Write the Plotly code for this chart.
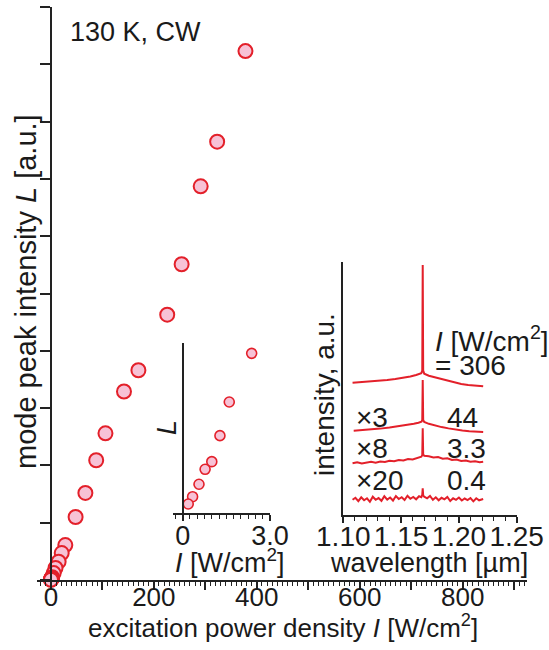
import plotly.graph_objects as go

# ---------------- data ----------------
# main: mode peak intensity L vs excitation power density I
I_main = [378, 323, 291, 254, 226, 170, 142, 106, 88, 67, 48, 28, 21, 15, 9, 5.4, 2.4, 1.6, 1.3, 1.0, 0.77, 0.56, 0.34, 0.19]
L_main = [9.23, 7.65, 6.87, 5.51, 4.63, 3.66, 3.29, 2.56, 2.09, 1.52, 1.10, 0.61, 0.47, 0.32, 0.21, 0.12, 0.05, 0.035, 0.028, 0.022, 0.018, 0.013, 0.008, 0.004]

# inset 1: low-excitation region
I_low = [2.37, 1.60, 1.28, 1.00, 0.77, 0.56, 0.34, 0.19]
L_low = [0.939, 0.653, 0.455, 0.302, 0.257, 0.169, 0.096, 0.053]

# inset 2: spectra (offset, scaled)
wl_306 = [1.108, 1.115, 1.122, 1.130, 1.138, 1.145, 1.152, 1.158, 1.163, 1.1675, 1.1683, 1.1687, 1.1691, 1.1700, 1.174, 1.179, 1.184, 1.190, 1.196, 1.202, 1.208, 1.214, 1.221]
int_306 = [5.22, 5.24, 5.27, 5.30, 5.33, 5.37, 5.42, 5.47, 5.53, 5.60, 5.70, 9.87, 5.70, 5.58, 5.50, 5.44, 5.38, 5.31, 5.24, 5.17, 5.13, 5.10, 5.08]

wl_44 = [1.109, 1.116, 1.124, 1.132, 1.140, 1.148, 1.155, 1.161, 1.165, 1.1676, 1.1683, 1.1687, 1.1691, 1.1700, 1.174, 1.179, 1.185, 1.191, 1.197, 1.203, 1.209, 1.215, 1.221]
int_44 = [3.33, 3.35, 3.38, 3.41, 3.45, 3.50, 3.55, 3.60, 3.64, 3.68, 3.75, 5.33, 3.75, 3.67, 3.60, 3.53, 3.47, 3.42, 3.37, 3.34, 3.31, 3.30, 3.28]

wl_3p3 = [1.108, 1.112, 1.116, 1.120, 1.124, 1.128, 1.132, 1.136, 1.140, 1.144, 1.148, 1.152, 1.156, 1.160, 1.164, 1.1675, 1.1683, 1.1687, 1.1691, 1.170, 1.174, 1.178, 1.182, 1.186, 1.190, 1.194, 1.198, 1.202, 1.206, 1.210, 1.214, 1.218, 1.221]
int_3p3 = [2.04, 2.08, 2.03, 2.07, 2.10, 2.06, 2.11, 2.09, 2.14, 2.12, 2.17, 2.15, 2.21, 2.19, 2.26, 2.30, 2.36, 3.42, 2.40, 2.34, 2.32, 2.27, 2.29, 2.22, 2.24, 2.17, 2.19, 2.13, 2.15, 2.10, 2.12, 2.08, 2.10]

wl_04 = [1.108, 1.1105, 1.113, 1.1155, 1.118, 1.1205, 1.123, 1.1255, 1.128, 1.1305, 1.133, 1.1355, 1.138, 1.1405, 1.143, 1.1455, 1.148, 1.1505, 1.153, 1.1555, 1.158, 1.1605, 1.163, 1.1655, 1.1675, 1.1683, 1.1687, 1.1691, 1.170, 1.1725, 1.175, 1.1775, 1.180, 1.1825, 1.185, 1.1875, 1.190, 1.1925, 1.195, 1.1975, 1.200, 1.2025, 1.205, 1.2075, 1.210, 1.2125, 1.215, 1.2175, 1.221]
int_04 = [0.60, 0.68, 0.55, 0.70, 0.58, 0.66, 0.52, 0.72, 0.60, 0.67, 0.56, 0.74, 0.61, 0.69, 0.57, 0.75, 0.63, 0.70, 0.59, 0.76, 0.64, 0.71, 0.62, 0.74, 0.70, 0.80, 1.05, 0.78, 0.72, 0.66, 0.75, 0.60, 0.70, 0.58, 0.68, 0.62, 0.71, 0.55, 0.66, 0.60, 0.69, 0.57, 0.65, 0.59, 0.67, 0.54, 0.66, 0.58, 0.63]

spectra = [(wl_306, int_306), (wl_44, int_44), (wl_3p3, int_3p3), (wl_04, int_04)]

main_x_ticks = [0, 100, 200, 300, 400, 500, 600, 700, 800, 900]
main_x_labels = ["0", "", "200", "", "400", "", "600", "", "800", ""]
low_x_ticks = [0, 3.0]
low_x_labels = ["0", "3.0"]
wl_ticks = [1.10, 1.15, 1.20, 1.25]
wl_labels = ["1.10", "1.15", "1.20", "1.25"]

# ---------------- style ----------------
W, H = 549, 650
FONT = "Liberation Sans, Arial, sans-serif"
TXT = "#1a1a1a"
AX = "#222222"
RED = "#e3202a"
PINK = "#f7c2d6"

def fx(px):
    return px / W

def fy(py):
    return 1 - py / H

fig = go.Figure()

# main
fig.add_trace(go.Scatter(x=I_main, y=L_main, mode="markers", xaxis="x", yaxis="y",
                         marker=dict(size=14, color=PINK, line=dict(color=RED, width=2)),
                         cliponaxis=False, showlegend=False))
# inset 1
fig.add_trace(go.Scatter(x=I_low, y=L_low, mode="markers", xaxis="x2", yaxis="y2",
                         marker=dict(size=10, color=PINK, line=dict(color=RED, width=1.6)),
                         cliponaxis=False, showlegend=False))
# inset 2
for wl, iv in spectra:
    fig.add_trace(go.Scatter(x=wl, y=iv, mode="lines", xaxis="x3", yaxis="y3",
                             line=dict(color=RED, width=2), showlegend=False))

# main axes geometry
x1_rng = [-27, 925]
x1_dom_px = [37, 527]
x1_dom = [fx(x1_dom_px[0]), fx(x1_dom_px[1])]
x1_zero = x1_dom[0] + (0 - x1_rng[0]) / (x1_rng[1] - x1_rng[0]) * (x1_dom[1] - x1_dom[0])

x2_rng = [-0.333, 3.0]
x2_dom = [fx(173), fx(270)]
x2_zero = x2_dom[0] + (0 - x2_rng[0]) / (x2_rng[1] - x2_rng[0]) * (x2_dom[1] - x2_dom[0])

common = dict(showgrid=False, zeroline=False, showline=True, linecolor=AX, linewidth=1.5,
              tickcolor=AX, tickwidth=1.5, automargin=False, tickangle=0)

fig.update_layout(
    template="none",
    width=W, height=H, autosize=False,
    margin=dict(l=0, r=0, t=0, b=0, pad=0),
    paper_bgcolor="white", plot_bgcolor="rgba(0,0,0,0)",
    font=dict(family=FONT, size=26, color=TXT),
    showlegend=False,
    xaxis=dict(domain=x1_dom, range=x1_rng, anchor="y", ticks="outside", ticklen=8,
               tickmode="array", tickvals=main_x_ticks, ticktext=main_x_labels,
               ticklabelstandoff=-15, tickfont=dict(family=FONT, size=26, color=TXT),
               minor=dict(ticks="outside", ticklen=4, tickmode="linear", tick0=0, dtick=10,
                          tickcolor=AX, tickwidth=1),
               **common),
    yaxis=dict(domain=[fy(580), fy(7)], range=[0, 10], anchor="free", position=x1_zero,
               ticks="outside", ticklen=10, dtick=1, tick0=0, showticklabels=False, **common),
    xaxis2=dict(domain=x2_dom, range=x2_rng, anchor="y2", ticks="outside", ticklen=6,
                tickmode="array", tickvals=low_x_ticks, ticktext=low_x_labels,
                ticklabelstandoff=-8, tickfont=dict(family=FONT, size=27, color=TXT),
                minor=dict(ticks="outside", ticklen=4, tickmode="linear", tick0=0, dtick=0.25,
                           tickcolor=AX, tickwidth=1),
                **common),
    yaxis2=dict(domain=[fy(513), fy(343)], range=[0, 1], anchor="free", position=x2_zero,
                ticks="", showticklabels=False, **common),
    xaxis3=dict(domain=[fx(343.3), fx(516.7)], range=[1.10, 1.25], anchor="y3", ticks="outside",
                ticklen=6, tickmode="array", tickvals=wl_ticks, ticktext=wl_labels,
                ticklabelstandoff=-10, tickfont=dict(family=FONT, size=28, color=TXT),
                minor=dict(ticks="outside", ticklen=4, tickmode="linear", tick0=1.10, dtick=0.01,
                           tickcolor=AX, tickwidth=1),
                **common),
    yaxis3=dict(domain=[fy(515), fy(261.7)], range=[0, 10], anchor="x3",
                ticks="", showticklabels=False, **common),
)

def ann(text, x, y, xanchor="center", angle=0, size=28):
    fig.add_annotation(text=text, x=fx(x), y=fy(y), xref="paper", yref="paper",
                       xanchor=xanchor, yanchor="middle", showarrow=False, textangle=angle,
                       font=dict(family=FONT, size=size, color=TXT))

ann("130 K, CW", 68, 32, xanchor="left", size=27)
ann("mode peak intensity <i>L</i> [a.u.]", 26, 292, angle=-90, size=29)
ann("excitation power density <i>I</i> [W/cm<sup>2</sup>]", 283, 626, size=26)
ann("<i>L</i>", 167, 428, angle=-90, size=27)
ann("<i>I</i> [W/cm<sup>2</sup>]", 230, 561, size=27)
ann("intensity, a.u.", 325, 395, angle=-90, size=28)
ann("wavelength [µm]", 429, 563, size=27)
ann("<i>I</i> [W/cm<sup>2</sup>]", 433, 339, xanchor="left", size=28)
ann("= 306", 433, 365, xanchor="left", size=28)
ann("×3", 354, 417, xanchor="left", size=28)
ann("44", 480, 417, xanchor="right", size=28)
ann("×8", 354, 448, xanchor="left", size=28)
ann("3.3", 488, 448, xanchor="right", size=28)
ann("×20", 354, 480, xanchor="left", size=28)
ann("0.4", 488, 480, xanchor="right", size=28)

fig.write_html("out.html")
